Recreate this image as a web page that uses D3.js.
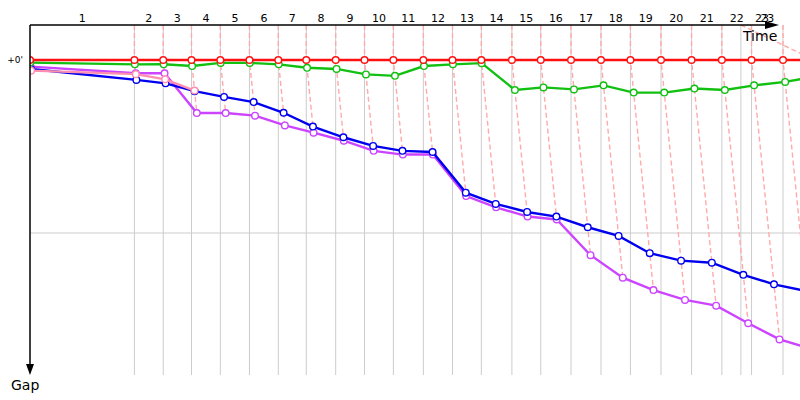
<html>
<head>
  <title>Gap chart</title>
  <meta charset="utf-8" />
  <style type="text/css">
    body { margin: 0; background: white; }
    svg { display: block; }
    text { font-family: "DejaVu Sans", Verdana, sans-serif; }
  </style>
  <script src="https://d3js.org/d3.v7.min.js"></script>
</head>
<body>
<svg width="800" height="400"></svg>
<script>
  // lap labels and leader cumulative time (s) at the end of each lap, index 0 = start
  var lapLabels = ["1","2","3","4","5","6","7","8","9","10","11","12","13","14","15","16","17","18","19","20","21","22","23"]
  var leaderTimes = [0, 362, 462, 560, 660, 761, 861, 958, 1060, 1160, 1260, 1364, 1465, 1565, 1671,
    1771, 1876, 1980, 2082, 2188, 2294, 2399, 2502, 2611, 2715]

  // gaps to the leader (s) per lap, index 0 = start
  var redGaps = [0, 0, 0, 0, 0, 0, 0, 0, 0, 0, 0, 0, 0, 0, 0, 0, 0, 0, 0, 0, 0, 0, 0, 0, 0]
  var greenGaps = [0.9, 1.5, 1.5, 2.1, 1.0, 1.0, 1.5, 2.7, 3.1, 5.0, 5.5, 2.1, 1.5, 1.1, 10.4,
    9.5, 10.2, 8.8, 11.3, 11.3, 9.9, 10.4, 8.8, 7.6, 5.8]
  var blueGaps = [3.1, 6.9, 8.1, 10.8, 12.8, 14.6, 18.3, 23.1, 26.8, 29.8, 31.5, 31.9, 46.0, 49.9, 52.7,
    54.3, 58.0, 61.0, 67.0, 69.6, 70.3, 74.5, 77.8, 80.1, 84.0]
  var purpleGaps = [2.3, 4.6, 4.6, 18.4, 18.4, 19.3, 22.7, 25.2, 28.0, 31.5, 32.8, 32.8, 47.2, 51.1, 54.3,
    55.3, 67.7, 75.5, 79.8, 83.2, 85.2, 91.3, 96.9, 100.3, 104.0]
  var pinkGaps = [3.7, 4.9, 6.7, 10.6]

  // odd extra lap marker near the end
  var extraLap = { label: "23", time: 2465, endTime: 2775, endGap: 2.6 }

  var gapTicks = [0, 60]
  var gapTickLabels = ["+0'", ""]

  var drivers = [
    { name: "purple", color: "#cc44ff", gaps: purpleGaps },
    { name: "blue", color: "#0000ee", gaps: blueGaps },
    { name: "pink", color: "#ff8fb0", gaps: pinkGaps },
    { name: "green", color: "#11c011", gaps: greenGaps },
    { name: "red", color: "#ff1010", gaps: redGaps }
  ]

  var pLeft = 30, pTop = 25, pBottom = 375, pRight = 800

  var x = d3.scaleLinear().domain([0, 2670]).range([pLeft, pRight])
  var y = d3.scaleLinear().domain([0, 60]).range([60, 233])

  var svg = d3.select("svg")

  svg.append("defs").append("clipPath").attr("id", "plot")
    .append("rect").attr("x", pLeft).attr("y", pTop).attr("width", pRight - pLeft).attr("height", 400 - pTop)

  var plot = svg.append("g").attr("clip-path", "url(#plot)")

  // vertical grid at leader lap times
  var gridTimes = leaderTimes.slice(1).concat([extraLap.time])
  plot.selectAll("line.vgrid")
    .data(gridTimes)
    .enter()
    .append("line")
    .attr("class", "vgrid")
    .attr("x1", function (d) { return x(d) })
    .attr("x2", function (d) { return x(d) })
    .attr("y1", pTop)
    .attr("y2", pBottom)
    .style("stroke", "#cccccc")
    .style("stroke-width", 1)

  plot.selectAll("line.hgrid")
    .data(gapTicks)
    .enter()
    .append("line")
    .attr("class", "hgrid")
    .attr("x1", pLeft)
    .attr("x2", pRight)
    .attr("y1", function (d) { return y(d) })
    .attr("y2", function (d) { return y(d) })
    .style("stroke", "#cccccc")
    .style("stroke-width", 1)

  // dashed lines joining each lap's points
  var lapLines = []
  for (var i = 1; i < leaderTimes.length; i++) {
    var pts = [[x(leaderTimes[i]), pTop]]
    var gs = drivers.filter(function (d) { return d.gaps[i] != null })
      .map(function (d) { return d.gaps[i] })
      .sort(function (a, b) { return a - b })
    gs.forEach(function (g) { pts.push([x(leaderTimes[i] + g), y(g)]) })
    lapLines.push(pts)
  }
  lapLines.push([[x(extraLap.time), pTop], [x(extraLap.endTime), y(extraLap.endGap)]])

  plot.selectAll("path.lap")
    .data(lapLines)
    .enter()
    .append("path")
    .attr("class", "lap")
    .attr("d", d3.line())
    .style("fill", "none")
    .style("stroke", "#ffaaaa")
    .style("stroke-width", 1.4)
    .style("stroke-dasharray", "5,3")

  var line = d3.line()
    .x(function (d) { return x(d.t + d.g) })
    .y(function (d) { return y(d.g) })

  drivers.forEach(function (drv) {
    var pts = drv.gaps.map(function (g, i) { return { t: leaderTimes[i], g: g } })
    var g = plot.append("g")
    g.append("path")
      .datum(pts)
      .attr("d", line)
      .style("fill", "none")
      .style("stroke", drv.color)
      .style("stroke-width", 2.4)
    g.selectAll("circle")
      .data(pts)
      .enter()
      .append("circle")
      .attr("cx", function (d) { return x(d.t + d.g) })
      .attr("cy", function (d) { return y(d.g) })
      .attr("r", 3.3)
      .style("fill", "white")
      .style("stroke", drv.color)
      .style("stroke-width", 1.4)
  })

  // axes
  svg.append("line")
    .attr("x1", pLeft).attr("x2", 768).attr("y1", pTop).attr("y2", pTop)
    .style("stroke", "black").style("stroke-width", 1.5)
  svg.append("path")
    .attr("d", "M765," + (pTop - 4) + "L779," + pTop + "L765," + (pTop + 4) + "Z")
    .style("fill", "black")
  svg.append("line")
    .attr("x1", pLeft).attr("x2", pLeft).attr("y1", pTop).attr("y2", pBottom - 8)
    .style("stroke", "black").style("stroke-width", 1.5)
  svg.append("path")
    .attr("d", "M" + (pLeft - 4) + "," + (pBottom - 11) + "L" + pLeft + "," + pBottom + "L" + (pLeft + 4) + "," + (pBottom - 11) + "Z")
    .style("fill", "black")

  svg.append("text").attr("x", 743).attr("y", 41).text("Time")
    .style("font-size", "14px")
  svg.append("text").attr("x", 11).attr("y", 390).text("Gap")
    .style("font-size", "14px")

  // lap labels centred on each lap
  svg.selectAll("text.lap")
    .data(lapLabels)
    .enter()
    .append("text")
    .attr("class", "lap")
    .attr("x", function (d, i) { return x((leaderTimes[i] + leaderTimes[i + 1]) / 2) })
    .attr("y", 22)
    .attr("text-anchor", "middle")
    .style("font-size", "11px")
    .text(function (d) { return d })

  svg.append("text")
    .attr("x", x((extraLap.time + leaderTimes[23]) / 2))
    .attr("y", 22)
    .attr("text-anchor", "middle")
    .style("font-size", "11px")
    .text(extraLap.label)

  svg.selectAll("text.gap")
    .data(gapTicks)
    .enter()
    .append("text")
    .attr("class", "gap")
    .attr("x", 23)
    .attr("y", function (d) { return y(d) + 3 })
    .attr("text-anchor", "end")
    .style("font-size", "9px")
    .text(function (d, i) { return gapTickLabels[i] })
</script>
</body>
</html>
